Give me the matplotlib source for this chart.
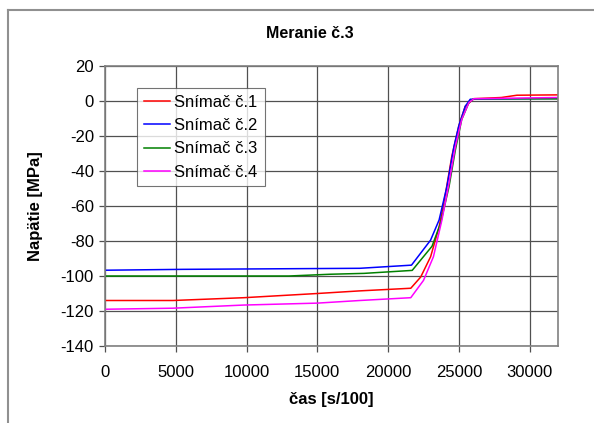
import matplotlib
matplotlib.use("Agg")
import matplotlib.pyplot as plt
from matplotlib.lines import Line2D

plt.rcParams['font.family'] = ['Liberation Sans', 'DejaVu Sans']
plt.rcParams['axes.unicode_minus'] = False

# time [s/100] and stress [MPa]
t1 = [0, 4800, 9800, 15000, 18000, 21600, 22300, 23000, 23600, 24050, 24500, 25000, 25450, 26050, 28000, 29100, 32000]
s1 = [-114, -114, -112.4, -110, -108.5, -107, -100.6, -89, -72, -53, -31.6, -14, -3, 1.3, 2, 3.3, 3.5]

t2 = [0, 5500, 18000, 21650, 23000, 23600, 24150, 24650, 25000, 25450, 25800, 28000, 32000]
s2 = [-96.7, -96.2, -95.6, -93.8, -79.5, -68, -49, -26, -14, -3, 1, 1.2, 1.5]

t3 = [0, 13000, 15900, 18300, 21700, 23100, 23700, 24300, 24750, 25200, 25700, 26050, 32000]
s3 = [-100, -100, -99, -98.5, -96.8, -83, -70, -49, -28, -10.5, -1, 1.3, 1.2]

t4 = [0, 4800, 9800, 15000, 18000, 21600, 22500, 23200, 23800, 24300, 24750, 25200, 25700, 26050, 32000]
s4 = [-119, -118.4, -116.6, -115.5, -114, -112.4, -102.5, -89, -68, -47, -26, -10.5, -1, 1.3, 2]

labels = ['Snímač č.1', 'Snímač č.2', 'Snímač č.3', 'Snímač č.4']
colors = ['#ff0000', '#0000ff', '#008000', '#ff00ff']

fig = plt.figure(figsize=(5.94, 4.23), dpi=100)
ax = fig.add_axes([105 / 594, 1 - 346 / 423, 453 / 594, 280 / 423])

for t, s, lab, c in zip([t1, t2, t3, t4], [s1, s2, s3, s4], labels, colors):
    ax.plot(t, s, color=c, lw=1.1, label=lab)

ax.set_xlim(0, 32000)
ax.set_ylim(-140, 20)
ax.set_xticks(range(0, 30001, 5000))
ax.set_yticks(range(-140, 21, 20))
ax.grid(True, color='#505050', lw=0.9)
ax.set_axisbelow(True)
for sp in ax.spines.values():
    sp.set_color('#808080')
    sp.set_linewidth(1.2)
ax.tick_params(direction='out', length=4, width=0.9, color='#505050', labelsize=12)
ax.tick_params(axis='x', pad=10)
ax.tick_params(axis='y', pad=4)

ax.set_xlabel('čas [s/100]', fontsize=12, fontweight='bold')
ax.set_ylabel('Napätie [MPa]', fontsize=12, fontweight='bold')
ax.xaxis.set_label_coords(0.5, (346 - 392) / 280)
ax.yaxis.set_label_coords((43 - 105) / 453, 0.5)
fig.text(310 / 594, 1 - 33 / 423, 'Meranie č.3', fontsize=11.5, fontweight='bold', ha='center', va='center')

leg = ax.legend(loc='upper left', bbox_to_anchor=((137 - 105) / 453, (346 - 88) / 280),
                fontsize=12, frameon=True, fancybox=False, handlelength=1.55,
                borderpad=0.4, labelspacing=0.5, handletextpad=0.3, borderaxespad=0)
leg.get_frame().set_edgecolor('#505050')
leg.get_frame().set_linewidth(0.8)

# outer chart border
fig.add_artist(Line2D([8 / 594, 1.01], [1 - 10 / 423] * 2, color='#909090', lw=1.5))
fig.add_artist(Line2D([8 / 594] * 2, [1 - 10 / 423, -0.01], color='#909090', lw=1.5))

fig.savefig('out.png', dpi=100)
